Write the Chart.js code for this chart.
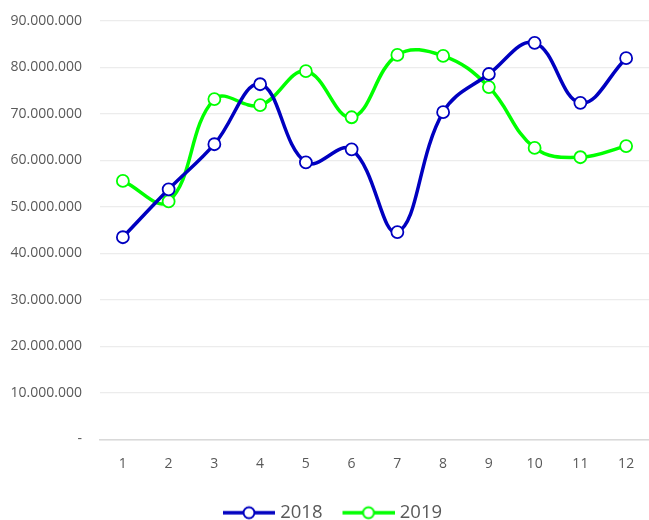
<!DOCTYPE html>
<html>
<head>
<meta charset="utf-8">
<script src="https://cdn.jsdelivr.net/npm/chart.js@4/dist/chart.umd.min.js"></script>
<style>
  html, body { margin: 0; padding: 0; background: #fff; overflow: hidden; }
  #wrap { position: relative; width: 649px; height: 520px; }
  canvas { display: block; }
</style>
</head>
<body>
<div id="wrap"><canvas id="myChart"></canvas></div>
<script>
const meses = ["1", "2", "3", "4", "5", "6", "7", "8", "9", "10", "11", "12"];
const ventas2018 = [43500000, 53800000, 63500000, 76400000, 59600000, 62400000, 44600000, 70400000, 78600000, 85300000, 72400000, 82000000];
const ventas2019 = [55600000, 51200000, 73200000, 71900000, 79200000, 69300000, 82700000, 82500000, 75800000, 62700000, 60700000, 63100000];
const ticksY = [0, 10000000, 20000000, 30000000, 40000000, 50000000, 60000000, 70000000, 80000000, 90000000];

const fuente = "'Open Sans', sans-serif";

// icono de leyenda: linea con circulo (con margen a la izquierda)
function iconoLeyenda(color) {
  const c = document.createElement("canvas");
  c.width = 72;
  c.height = 16;
  const g = c.getContext("2d");
  g.strokeStyle = color;
  g.lineWidth = 3.5;
  g.beginPath();
  g.moveTo(20, 8);
  g.lineTo(72, 8);
  g.stroke();
  g.fillStyle = "#fff";
  g.lineWidth = 2;
  g.beginPath();
  g.arc(46, 8, 5.5, 0, Math.PI * 2);
  g.fill();
  g.stroke();
  return c;
}

function formato(v) {
  if (v === 0) return "-";
  return v.toString().replace(/\B(?=(\d{3})+(?!\d))/g, ".");
}

const ctx = document.getElementById("myChart");
const myChart = new Chart(ctx, {
  type: "line",
  data: {
    labels: meses,
    datasets: [
      {
        label: "2018",
        data: ventas2018,
        borderColor: "#0000c0",
        backgroundColor: "#ffffff",
        borderWidth: 3.5,
        pointRadius: 6,
        pointBorderWidth: 1.8,
        pointBackgroundColor: "#ffffff",
        pointBorderColor: "#0000c0",
        tension: 0.4,
      },
      {
        label: "2019",
        data: ventas2019,
        borderColor: "#00ff00",
        backgroundColor: "#ffffff",
        borderWidth: 3.5,
        pointRadius: 6,
        pointBorderWidth: 1.8,
        pointBackgroundColor: "#ffffff",
        pointBorderColor: "#00ff00",
        tension: 0.4,
      },
    ],
  },
  options: {
    responsive: true,
    maintainAspectRatio: false,
    animation: false,
    layout: { autoPadding: false, padding: { top: 21, right: 0, left: 0, bottom: -12 } },
    plugins: {
      tooltip: { enabled: false },
      legend: {
        position: "bottom",
        labels: {
          usePointStyle: true,
          pointStyleWidth: 64,
          padding: 4,
          color: "#595959",
          font: { family: fuente, size: 18.5 },
          generateLabels: function (chart) {
            return chart.data.datasets.map(function (ds, i) {
              return {
                text: ds.label,
                pointStyle: iconoLeyenda(ds.borderColor),
                fillStyle: "#fff",
                strokeStyle: ds.borderColor,
                lineWidth: 0,
                fontColor: "#595959",
                datasetIndex: i,
              };
            });
          },
        },
      },
    },
    scales: {
      x: {
        offset: true,
        grid: { display: false, drawTicks: false },
        border: { display: true, color: "#d9d9d9", width: 1.5 },
        ticks: { color: "#595959", font: { family: fuente, size: 14 }, padding: 16 },
        afterFit: function (axis) {
          axis.height = 60;
          axis.paddingLeft = 0;
          axis.paddingRight = 0;
        },
      },
      y: {
        min: 0,
        max: 90000000,
        afterBuildTicks: function (axis) {
          axis.ticks = ticksY.map(function (v) { return { value: v }; });
        },
        grid: { color: "#ececec", lineWidth: 1.2, drawTicks: false },
        border: { display: false },
        ticks: {
          color: "#595959",
          font: { family: fuente, size: 14 },
          padding: 18,
          callback: function (v) { return formato(v); },
        },
        afterFit: function (axis) {
          axis.width = 100;
          axis.paddingTop = 0;
          axis.paddingBottom = 0;
        },
      },
    },
  },
});
</script>
</body>
</html>
